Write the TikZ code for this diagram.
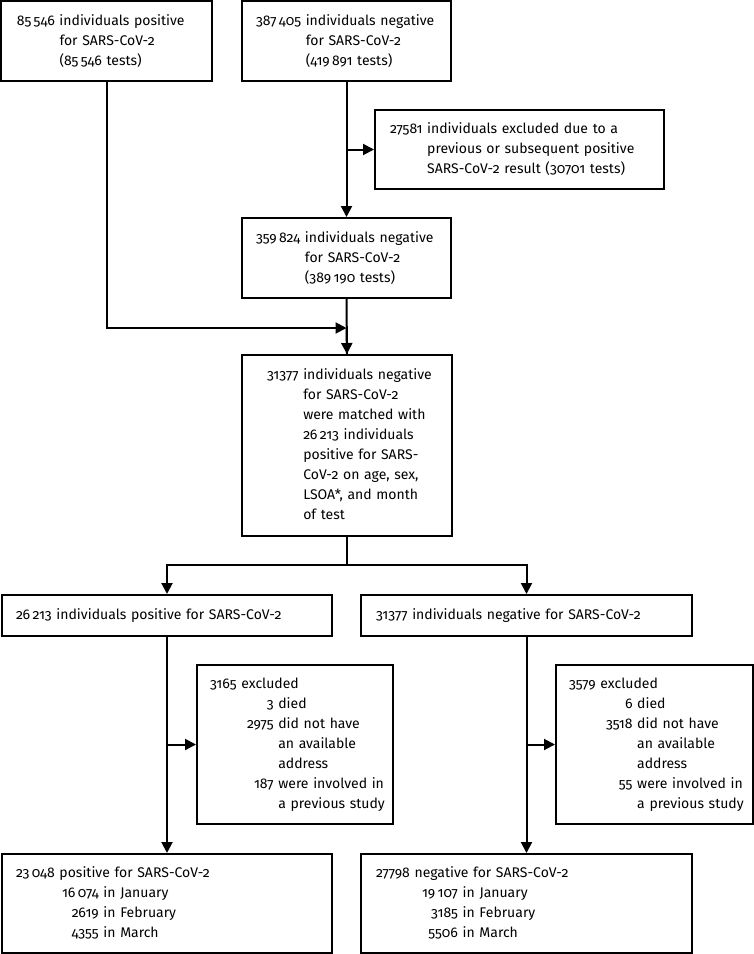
\documentclass[tikz,border=0pt]{standalone}
\usepackage{fontspec}
\setmainfont{Fira Sans}[Numbers=OldStyle]
\usetikzlibrary{arrows.meta}
\newcommand{\boxfont}{\fontsize{14}{20}\selectfont}
\tikzset{
  box/.style={draw, line width=2pt, inner xsep=0pt, inner ysep=0pt, align=left, font=\boxfont},
  conn/.style={line width=2pt},
  arr/.style={line width=2pt, -{Triangle[length=11pt,width=11pt]}}
}
\begin{document}
\begin{tikzpicture}[x=1pt,y=-1pt]
\useasboundingbox (0,0) rectangle (754,954);
% top row
\node[box, minimum width=211pt, minimum height=80pt, text width=211pt] (A) at (106.5,41)
 {\hspace*{16pt}\begin{tabular}{@{}r@{\ }l@{}}85\,546 & individuals positive\\ & for SARS-CoV-2\\ & (85\,546 tests)\end{tabular}};
\node[box, minimum width=209pt, minimum height=80pt, text width=209pt] (B) at (346.5,41)
 {\hspace*{14pt}\begin{tabular}{@{}r@{\ }l@{}}387\,405 & individuals negative\\ & for SARS-CoV-2\\ & (419\,891 tests)\end{tabular}};
\node[box, minimum width=289pt, minimum height=79pt, text width=289pt] (E) at (519.5,149.5)
 {\hspace*{15pt}\begin{tabular}{@{}r@{\ }l@{}}27581 & individuals excluded due to a\\ & previous or subsequent positive\\ & SARS-CoV-2 result (30701 tests)\end{tabular}};
\node[box, minimum width=209pt, minimum height=80pt, text width=209pt] (C) at (346.5,258)
 {\hspace*{14pt}\begin{tabular}{@{}r@{\ }l@{}}359\,824 & individuals negative\\ & for SARS-CoV-2\\ & (389\,190 tests)\end{tabular}};
\node[box, minimum width=210pt, minimum height=181pt, text width=210pt] (D) at (347,445.5)
 {\hspace*{25pt}\begin{tabular}{@{}r@{\ }l@{}}31377 & individuals negative\\ & for SARS-CoV-2\\ & were matched with\\ & 26\,213 individuals\\ & positive for SARS-\\ & CoV-2 on age, sex,\\ & LSOA*, and month\\ & of test\end{tabular}};
% second level
\node[box, minimum width=330pt, minimum height=41pt, text width=330pt] (F) at (167,615.5)
 {\hspace*{14pt}26\,213 individuals positive for SARS-CoV-2};
\node[box, minimum width=331pt, minimum height=41pt, text width=331pt] (G) at (526.5,615.5)
 {\hspace*{15pt}31377 individuals negative for SARS-CoV-2};
\node[box, minimum width=196pt, minimum height=159pt, text width=196pt] (X1) at (295,744.5)
 {\hspace*{13pt}\begin{tabular}{@{}l@{}r@{\ }l@{}}\multicolumn{3}{@{}l@{}}{3165 excluded}\\
 \hspace*{37pt} & 3 & died\\ & 2975 & did not have\\ & & an available\\ & & address\\ & 187 & were involved in\\ & & a previous study\end{tabular}};
\node[box, minimum width=197pt, minimum height=159pt, text width=197pt] (X2) at (654.5,744.5)
 {\hspace*{13pt}\begin{tabular}{@{}l@{}r@{\ }l@{}}\multicolumn{3}{@{}l@{}}{3579 excluded}\\
 \hspace*{37pt} & 6 & died\\ & 3518 & did not have\\ & & an available\\ & & address\\ & 55 & were involved in\\ & & a previous study\end{tabular}};
\node[box, minimum width=330pt, minimum height=99pt, text width=330pt] (H) at (167,903.5)
 {\hspace*{14pt}\begin{tabular}{@{}l@{}r@{\ }l@{}}\multicolumn{3}{@{}l@{}}{23\,048 positive for SARS-CoV-2}\\
 \hspace*{46pt} & 16\,074 & in January\\ & 2619 & in February\\ & 4355 & in March\end{tabular}};
\node[box, minimum width=331pt, minimum height=99pt, text width=331pt] (I) at (526.5,903.5)
 {\hspace*{15pt}\begin{tabular}{@{}l@{}r@{\ }l@{}}\multicolumn{3}{@{}l@{}}{27798 negative for SARS-CoV-2}\\
 \hspace*{46pt} & 19\,107 & in January\\ & 3185 & in February\\ & 5506 & in March\end{tabular}};
% connectors
\coordinate (j1) at (346.5,328);
\coordinate (br) at (347,565);
\draw[arr] (B.south) -- (C.north);
\draw[arr] (B.south |- E.west) -- (E.west);
\draw[conn] (C.south) -- (D.north);
\draw[arr] (A.south) |- (j1);
\draw[arr] (j1) -- (D.north);
\draw[conn] (D.south) -- (br);
\draw[arr] (br) -| (F.north);
\draw[arr] (br) -| (G.north);
\draw[arr] (F.south) -- (H.north);
\draw[arr] (F.south |- X1.west) -- (X1.west);
\draw[arr] (G.south) -- (I.north);
\draw[arr] (G.south |- X2.west) -- (X2.west);
\end{tikzpicture}
\end{document}
